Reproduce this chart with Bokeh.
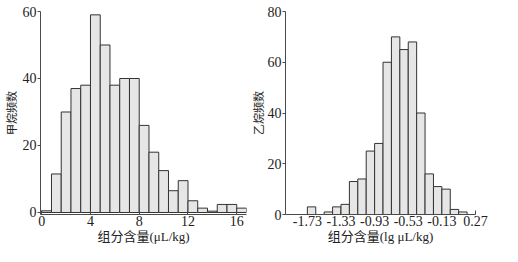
from bokeh.plotting import figure
from bokeh.layouts import row, column
from bokeh.models import FixedTicker, Range1d
from bokeh.embed import file_html
from bokeh.resources import INLINE

# ---- data: methane (甲烷) ----
ch4_bin_left = [0.0, 0.8, 1.6, 2.4, 3.2, 4.0, 4.8, 5.6, 6.4, 7.2, 8.0,
                8.8, 9.6, 10.4, 11.2, 12.0, 12.8, 13.6, 14.4, 15.2, 16.0]
ch4_bin_width = 0.8
ch4_counts = [0.5, 11.5, 30, 37, 38, 59, 50, 38, 40, 40, 26,
              18, 12.5, 6.5, 9.5, 3.5, 1.3, 0.4, 2.4, 2.4, 1.3]
ch4_xticks = [0, 4, 8, 12, 16]
ch4_yticks = [0, 20, 40, 60]

# ---- data: ethane (乙烷) ----
c2h6_bin_left = [-1.73, -1.63, -1.53, -1.43, -1.33, -1.23, -1.13, -1.03, -0.93,
                 -0.83, -0.73, -0.63, -0.53, -0.43, -0.33, -0.23, -0.13, -0.03, 0.07]
c2h6_bin_width = 0.1
c2h6_counts = [3, 0, 1, 3, 4, 13, 14, 25, 28, 60, 70, 65, 68, 40, 16, 11, 10, 2, 1]
c2h6_xticks = [-1.73, -1.33, -0.93, -0.53, -0.13, 0.27]
c2h6_xlabels = ["-1.73", "-1.33", "-0.93", "-0.53", "-0.13", "0.27"]
c2h6_yticks = [0, 20, 40, 60, 80]

SERIF = "Liberation Serif"
MIXED = "'Liberation Serif', 'Noto Sans CJK SC'"
AXIS_COLOR = "#4a4a4a"
TEXT_COLOR = "#222222"


def style(p, xticks, yticks, xlabel, ylabel, xoverrides=None):
    p.xgrid.visible = False
    p.ygrid.visible = False
    p.outline_line_color = None
    p.background_fill_color = "white"
    p.border_fill_color = "white"
    p.xaxis.ticker = FixedTicker(ticks=xticks)
    p.yaxis.ticker = FixedTicker(ticks=yticks)
    if xoverrides:
        p.xaxis.major_label_overrides = xoverrides
    for ax in (p.xaxis[0], p.yaxis[0]):
        ax.axis_line_color = AXIS_COLOR
        ax.axis_line_width = 1
        ax.major_tick_line_color = AXIS_COLOR
        ax.minor_tick_line_color = None
        ax.major_label_text_font = SERIF
        ax.major_label_text_color = TEXT_COLOR
        ax.axis_label_text_font = MIXED
        ax.axis_label_text_font_style = "normal"
        ax.axis_label_text_color = TEXT_COLOR
    p.xaxis.major_tick_in = 4
    p.xaxis.major_tick_out = 0
    p.yaxis.major_tick_in = 0
    p.yaxis.major_tick_out = 3
    p.xaxis.major_label_text_font_size = "14px"
    p.yaxis.major_label_text_font_size = "14px"
    p.xaxis.major_label_standoff = 1
    p.yaxis.major_label_standoff = 1
    p.xaxis.axis_label = xlabel
    p.yaxis.axis_label = ylabel
    p.xaxis.axis_label_text_font_size = "13px"
    p.yaxis.axis_label_text_font_size = "11px"
    p.xaxis.axis_label_standoff = 0
    p.yaxis.axis_label_standoff = 0


# ---- left: methane ----
p1 = figure(width=247, height=246, output_backend="svg", toolbar_location=None,
            x_range=Range1d(-0.1, 16.8), y_range=Range1d(-0.6, 60),
            min_border_left=40, min_border_right=1, min_border_top=11,
            min_border_bottom=32)
p1.quad(left=ch4_bin_left,
        right=[x + ch4_bin_width for x in ch4_bin_left],
        bottom=0, top=ch4_counts,
        fill_color="#e6e6e6", line_color="#333333", line_width=1)
style(p1, ch4_xticks, ch4_yticks, "组分含量(μL/kg)", "甲烷频数")
p1.yaxis.axis_label_standoff = 2

# ---- right: ethane ----
p2 = figure(width=255, height=246, output_backend="svg", toolbar_location=None,
            x_range=Range1d(-1.99, 0.27), y_range=Range1d(0, 80),
            min_border_left=38, min_border_right=27, min_border_top=11,
            min_border_bottom=32)
p2.quad(left=c2h6_bin_left,
        right=[x + c2h6_bin_width for x in c2h6_bin_left],
        bottom=0, top=c2h6_counts,
        fill_color="#e6e6e6", line_color="#333333", line_width=1)
style(p2, c2h6_xticks, c2h6_yticks, "组分含量(lg μL/kg)", "乙烷频数",
      {t: l for t, l in zip(c2h6_xticks, c2h6_xlabels)})

layout = row(column(p1), column(p2))
open("out.html", "w").write(file_html(layout, INLINE))
